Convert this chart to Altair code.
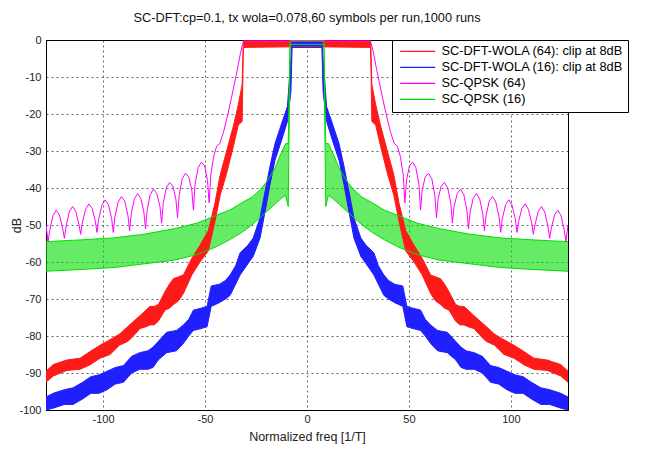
import altair as alt
import pandas as pd

TITLE = "SC-DFT:cp=0.1, tx wola=0.078,60 symbols per run,1000 runs"
SERIES = ["SC-DFT-WOLA (64): clip at 8dB", "SC-DFT-WOLA (16): clip at 8dB",
          "SC-QPSK (64)", "SC-QPSK (16)"]
COLORS = ["#ff1a1a", "#1f1fff", "#ff00ff", "#00dd00"]
X_TICKS = [-100, -50, 0, 50, 100]
Y_TICKS = [-100, -90, -80, -70, -60, -50, -40, -30, -20, -10, 0]

# --- spectra (positive-frequency half; spectrum is symmetric) ---
# SC-DFT-WOLA (64): band upper / lower envelope
red_x = [0, 31.2, 31.8, 33.7, 36, 39.4, 42.6, 45.1, 48.4, 52.5, 56.5, 60.6, 63, 65.5, 67.5, 69.6,
         72.9, 75, 77, 79, 81.9, 86, 88, 90, 92, 96.6, 101.5, 106.4, 111.3, 117.8, 124.4, 128]
red_hi = [-0.2, -0.2, -12, -17.5, -23, -30, -36.5, -44, -51.5, -55.5, -59, -63.5, -64, -64.5, -66, -68,
          -71.5, -72, -72, -73, -74.5, -76.5, -77.5, -78.5, -79.5, -81, -82.5, -84.2, -86, -86.5, -87.7, -89.5]
red_lo = [-1.8, -2, -22, -23, -28.5, -36, -42, -49, -57, -60, -63.5, -68.5, -70.5, -71.5, -72.5, -73,
          -76, -77, -77, -77.5, -78, -80.5, -81.5, -82, -82.5, -85, -86, -87.8, -89, -89.3, -90.8, -92.5]

# SC-DFT-WOLA (16)
blue_x = [0, 7.3, 7.9, 9.6, 12.4, 15.7, 18.1, 20.6, 23, 26.4, 29, 32.8, 35, 37.7, 40, 43, 47, 49, 52,
          55.7, 58, 60.6, 64, 68.8, 73, 75.5, 78, 82, 86, 90, 94, 98, 102, 106, 110, 114.7, 119, 124.5, 128]
blue_hi = [-0.4, -0.4, -5, -18, -22.5, -28, -34, -41, -48, -53.5, -55.5, -57.5, -61, -63.5, -65, -66,
           -66.5, -72, -72.5, -73, -75.5, -77, -78.5, -79, -81.5, -83, -84, -84.5, -85.5, -88, -88.5,
           -89.5, -90.5, -91, -92.5, -94, -94.5, -95.5, -96.5]
blue_lo = [-2, -2, -14, -22, -27, -32.5, -39, -46.5, -53.5, -58.5, -60.5, -63.5, -66, -69, -70, -71,
           -72, -77.5, -78, -78.5, -80, -82, -84, -84.5, -86.5, -88.5, -89, -89, -90, -92.5, -93,
           -94.5, -95.5, -95.5, -97, -98.5, -98.5, -99.5, -100]

# SC-QPSK (16): oscillating band envelopes
green_x = [0, 8.3, 9.2, 10.5, 13, 16, 20, 23, 27, 32, 38, 45, 54, 65, 80, 95, 110, 128]
green_hi = [-0.1, -0.1, -28, -28, -31, -35, -38.5, -40.5, -42.5, -44, -46, -47.5, -49.5, -51, -52.5,
            -53.5, -54, -54.5]
green_lo = [-1.2, -1.2, -45, -42, -43, -44.5, -46.5, -48, -50, -52, -54, -56, -58, -59.5, -60.5,
            -61.5, -62, -62.5]

# SC-QPSK (64): single line with side lobes
mag_x = [0, 31.0, 31.8, 32.6, 34, 35.5, 37, 39, 41, 42.8, 44.3, 45.8, 47.2, 48, 48.8, 50.2, 51.8,
         53.4, 54.9, 55.7, 56.5, 58, 59.6, 61.2, 62.7, 63.5, 64.3, 65.8, 67.4, 69, 70.5, 71.3, 72.1,
         73.7, 75.3, 76.9, 78.4, 79.2, 80, 81.5, 83.1, 84.7, 86.2, 87, 87.8, 89.4, 91, 92.6, 94.2, 95,
         95.8, 97.4, 99, 100.6, 102.2, 103, 103.8, 105.4, 107, 108.6, 110.2, 111, 111.8, 113.4, 115,
         116.6, 118.2, 119, 119.8, 121.4, 123, 124.6, 126.2, 127, 128]
mag_y = [-0.4, -0.4, -1.5, -3.5, -7.5, -11.5, -15.5, -20.5, -25, -28, -28.7, -31.5, -36.5, -44, -38,
         -34, -33, -34.5, -39, -46, -40.5, -37, -36, -37.5, -42, -48, -43, -39.5, -38.5, -40, -44,
         -49.5, -45, -41.5, -40.3, -41.8, -46, -51, -46.5, -42.8, -41.5, -43, -47, -51.5, -47.5,
         -43.5, -42.3, -43.8, -47.8, -52, -48.3, -44.5, -43.2, -44.7, -48.5, -52, -49, -45.5, -44.3,
         -45.8, -49.5, -52.5, -50, -46.3, -45, -46.5, -50.5, -53.6, -51, -47.3, -46, -47.5, -51.5,
         -54.5, -50]


def mirror(xs, *cols):
    out = [[-v for v in reversed(xs)] + list(xs[1:])]
    for c in cols:
        out.append(list(reversed(c)) + list(c[1:]))
    return out


def band_df(xs, hi, lo):
    x, h, l = mirror(xs, hi, lo)
    return pd.DataFrame({"x": x, "hi": h, "lo": l})


red_df = band_df(red_x, red_hi, red_lo)
blue_df = band_df(blue_x, blue_hi, blue_lo)
green_df = band_df(green_x, green_hi, green_lo)

rows = []
for name, df in [(SERIES[0], red_df), (SERIES[1], blue_df), (SERIES[3], green_df)]:
    for part in ["hi", "lo"]:
        for xv, yv in zip(df["x"], df[part]):
            rows.append({"x": xv, "y": yv, "series": name, "part": part})
mx, my = mirror(mag_x, mag_y)
for xv, yv in zip(mx, my):
    rows.append({"x": xv, "y": yv, "series": SERIES[2], "part": "main"})
line_df = pd.DataFrame(rows)

FONT = "Liberation Sans"
xs = alt.Scale(domain=[-128, 128], nice=False, zero=False)
ys = alt.Scale(domain=[-100, 0], nice=False, zero=False)
xax = alt.Axis(values=X_TICKS, title="Normalized freq [1/T]", labelExpr="'' + datum.value",
               labelPadding=3, titlePadding=6)
yax = alt.Axis(values=Y_TICKS, title="dB", labelExpr="'' + datum.value", labelPadding=5,
               titleX=-30, titleY=185, titleAngle=270, titleBaseline="middle")


def band(df, color, opacity):
    return alt.Chart(df).mark_area(color=color, opacity=opacity, clip=True).encode(
        x=alt.X("x:Q", scale=xs, axis=xax),
        y=alt.Y("hi:Q", scale=ys, axis=yax),
        y2="lo:Q",
    )


lines = alt.Chart(line_df).mark_line(strokeWidth=1, clip=True).encode(
    x=alt.X("x:Q", scale=xs, axis=xax),
    y=alt.Y("y:Q", scale=ys, axis=yax),
    color=alt.Color("series:N", scale=alt.Scale(domain=SERIES, range=COLORS),
                    legend=alt.Legend(title=None, orient="none", legendX=346, legendY=0,
                                      symbolType="M-5,0H5", symbolSize=49, symbolStrokeWidth=1.2,
                                      labelFont=FONT, labelFontSize=12.8, labelColor="#000",
                                      labelLimit=400, padding=5, symbolOffset=14.25,
                                      labelOffset=17.5, rowPadding=2,
                                      strokeColor="#000", fillColor="#fff")),
    detail="part:N",
)

chart = alt.layer(
    band(green_df, COLORS[3], 0.6),
    band(red_df, COLORS[0], 1.0),
    band(blue_df, COLORS[1], 1.0),
    lines,
).properties(
    width=522, height=370,
    title=alt.Title(TITLE, frame="group", anchor="middle", offset=9, fontSize=12.8,
                    font=FONT, fontWeight="normal", color="#111"),
    padding={"left": 38, "top": 32, "right": 75, "bottom": 35},
    autosize=alt.AutoSizeParams(type="none"),
).configure_view(
    stroke="#000", strokeWidth=1
).configure_axis(
    grid=True, gridColor="#000", gridDash=[2, 3], gridOpacity=0.6, gridWidth=1,
    domainColor="#000", ticks=False,
    labelFont=FONT, labelFontSize=11, labelColor="#222",
    titleFont=FONT, titleFontSize=12.5, titleFontWeight="normal", titleColor="#222",
)

chart.save("out.html", embed_options={"renderer": "svg", "actions": False})
